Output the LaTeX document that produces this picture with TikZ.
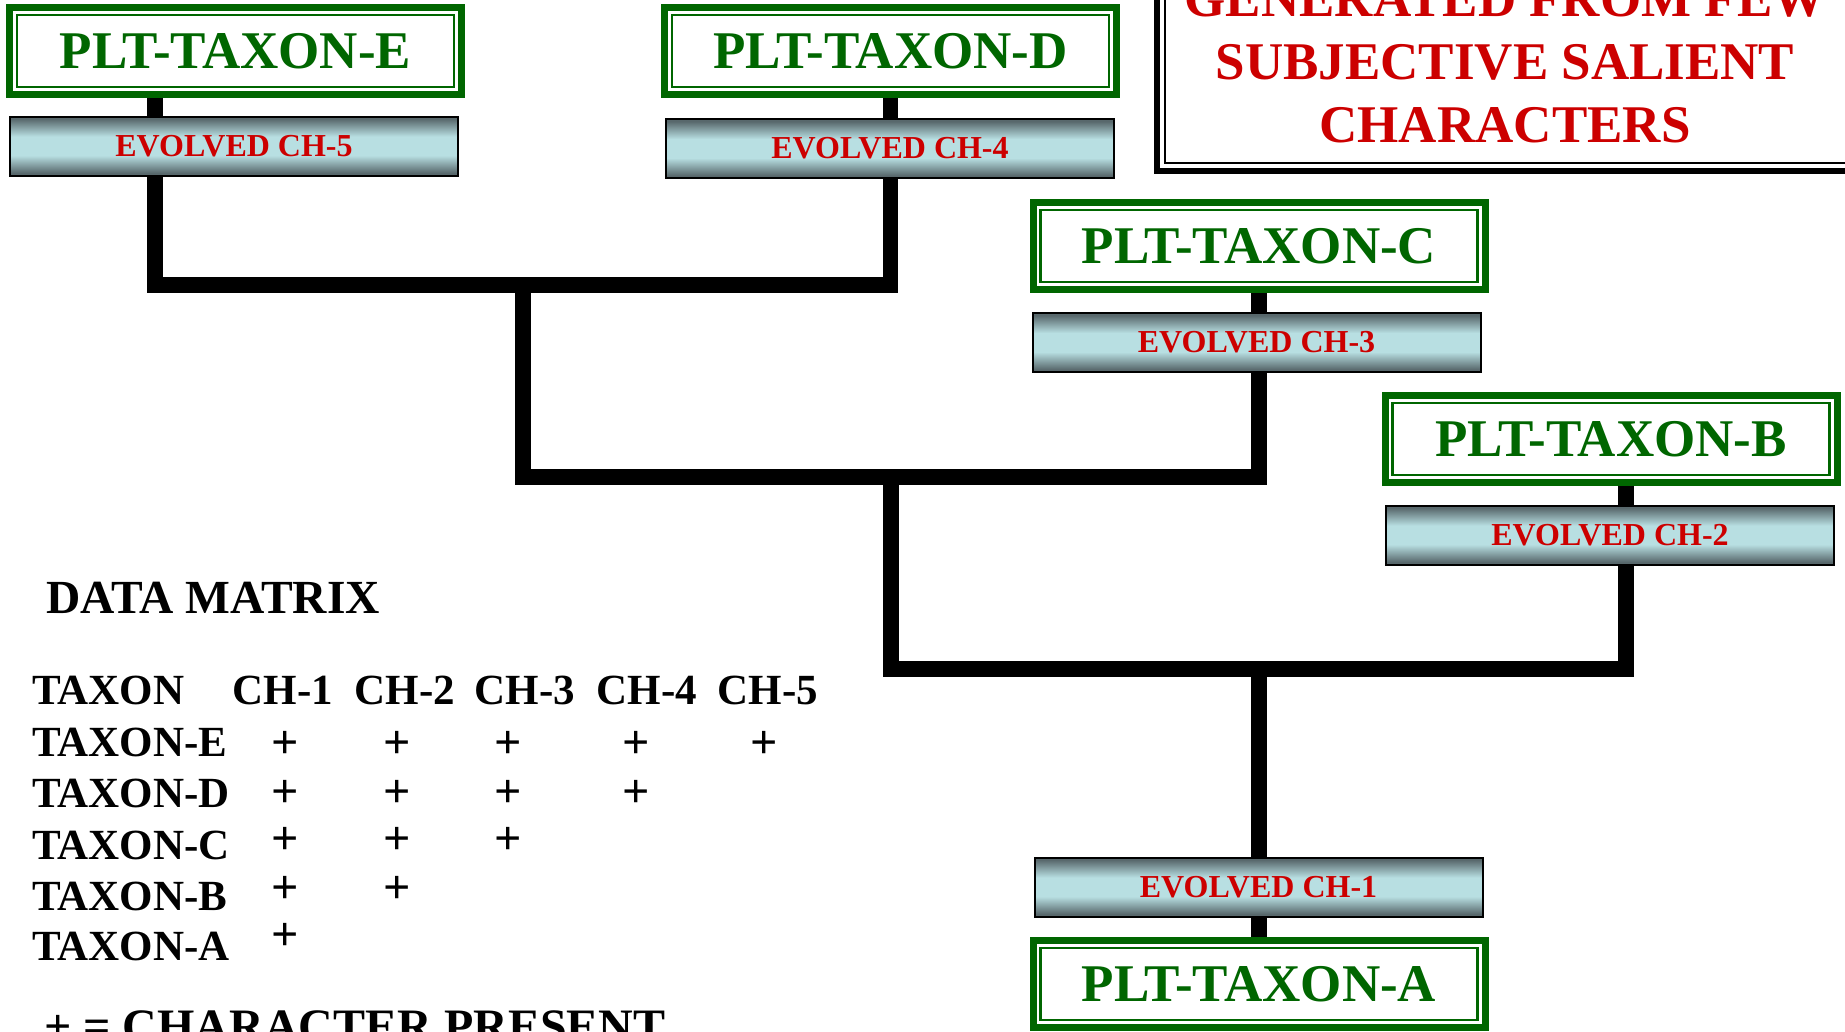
\documentclass[tikz,border=0pt]{standalone}
\usepackage{fontspec}
\setmainfont{Liberation Serif}
\usetikzlibrary{calc,backgrounds}

\definecolor{taxgreen}{RGB}{0,102,0}
\definecolor{chred}{RGB}{204,0,0}
\definecolor{banddark}{RGB}{88,104,108}
\definecolor{bandlight}{RGB}{184,223,226}
\pgfdeclareverticalshading{chshade}{100bp}{color(0bp)=(banddark); color(27bp)=(banddark);
	color(42bp)=(bandlight); color(58bp)=(bandlight); color(73bp)=(banddark); color(100bp)=(banddark)}

\tikzset{
	taxbox/.style={draw=taxgreen, line width=7pt, fill=white, inner sep=0pt,
		minimum width=452pt, minimum height=87pt, text=taxgreen,
		font=\fontsize{53}{60}\selectfont\bfseries,
		path picture={\draw[taxgreen, line width=2.5pt]
			([xshift=7.5pt,yshift=-7.5pt]path picture bounding box.north west) rectangle
			([xshift=-7.5pt,yshift=7.5pt]path picture bounding box.south east);}},
	chband/.style={draw=black, line width=2pt, inner sep=0pt, shading=chshade, shade,
		minimum width=448pt, minimum height=59pt, text=chred,
		font=\fontsize{32}{36}\selectfont\bfseries},
	branch/.style={line width=15.5pt},
	cell/.style={inner sep=0pt, font=\fontsize{43}{50}\selectfont\bfseries},
	pluscell/.style={inner sep=0pt, font=\fontsize{48}{50}\selectfont\bfseries},
}

\begin{document}
\begin{tikzpicture}[x=1pt,y=-1pt]
		%%%%% START %%%%%
		\useasboundingbox (0,0) rectangle (1845,1031);
		\clip (0,0) rectangle (1845,1031);
		
		% taxa
		\node[taxbox] (taxE) at (235.5,51) {PLT-TAXON-E};
		\node[taxbox] (taxD) at (890.5,51) {PLT-TAXON-D};
		\node[taxbox] (taxC) at (1259,246) {PLT-TAXON-C};
		\node[taxbox] (taxB) at (1611,439) {PLT-TAXON-B};
		\node[taxbox] (taxA) at (1259,984) {PLT-TAXON-A};
		
		% characters
		\node[chband] (ch5) at (234,146) {EVOLVED CH-5};
		\node[chband] (ch4) at (890,148.5) {EVOLVED CH-4};
		\node[chband] (ch3) at (1256.5,342.5) {EVOLVED CH-3};
		\node[chband] (ch2) at (1610,535) {EVOLVED CH-2};
		\node[chband] (ch1) at (1258.5,887) {EVOLVED CH-1};
		
		% tree
		\coordinate (jE) at (155,285);
		\coordinate (jED) at (523,285);
		\coordinate (jC) at (1259,477);
		\coordinate (jEDC) at (891,477);
		\coordinate (jB) at (1626,669);
		\coordinate (jA) at (1259,669);
		\begin{scope}[on background layer]
			\draw[branch] (taxE.south -| jE) -- (jE) -| (taxD.south);
			\draw[branch] (jED) |- (jC) -- (taxC.south);
			\draw[branch] (jEDC) |- (jB) -- (taxB.south -| jB);
			\draw[branch] (jA) -- (taxA.north);
		\end{scope}
		
		% title box
		\draw[line width=6pt] (1157,-10) |- (1860,171);
		\draw[line width=2pt] (1165,-10) |- (1860,163);
		\node[align=center, text=chred, font=\fontsize{53}{63}\selectfont\bfseries] (title) at (1505,62)
			{GENERATED FROM FEW\\SUBJECTIVE SALIENT\\CHARACTERS};
		
		% data matrix
		\node[cell, anchor=base west, font=\fontsize{47.5}{50}\selectfont\bfseries] (matrix) at (46,613) {DATA MATRIX};
		\foreach \name/\y in {TAXON/704, TAXON-E/756, TAXON-D/807, TAXON-C/859, TAXON-B/910, TAXON-A/960}
			\node[cell, anchor=base west] (row-\name) at (32,\y) {\name};
		\foreach \c/\x in {1/283, 2/405, 3/525, 4/647, 5/768}
			\node[cell, anchor=base] (head-\c) at (\x,704) {CH-\c};
		\foreach \r/\y/\n in {E/745/5, D/794/4, C/841/3, B/890/2, A/937/1}
			\foreach \c/\x in {1/285, 2/397, 3/508, 4/636, 5/764}
				{\ifnum\c>\n\else\node[pluscell] (plus-\r\c) at (\x,\y) {+};\fi}
		\node[cell, anchor=base west, font=\fontsize{48}{50}\selectfont\bfseries] (legend) at (44,1042) {+ = CHARACTER PRESENT};
		
		%%%%% END %%%%%
\end{tikzpicture}
\end{document}
